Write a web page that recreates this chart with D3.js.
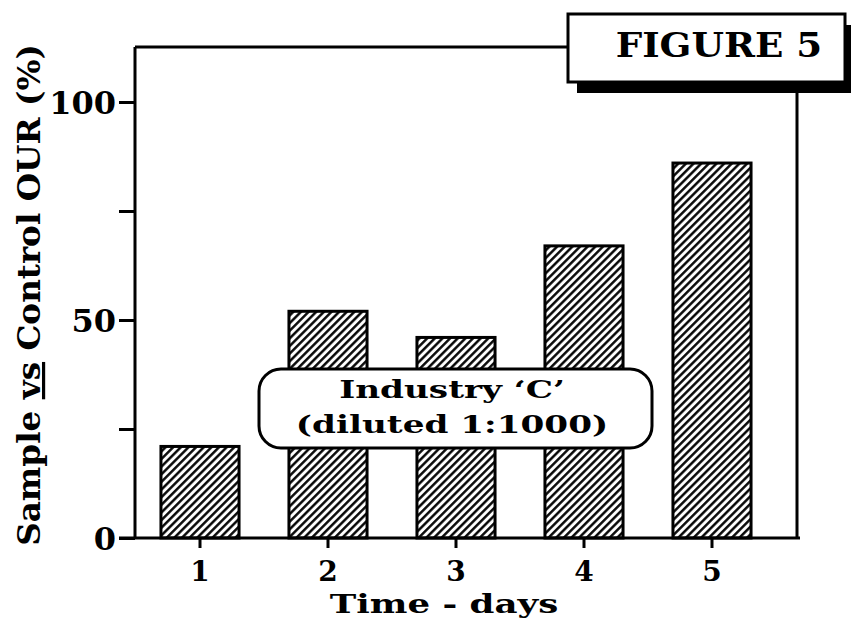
<!DOCTYPE html>
<html>
<head>
<meta charset="utf-8">
<script src="https://cdn.jsdelivr.net/npm/d3@7"></script>
<style>
  html, body { margin: 0; padding: 0; background: #fff; }
  svg { display: block; }
  text { font-family: "DejaVu Serif", serif; font-weight: bold; fill: #000; }
</style>
</head>
<body>
<svg id="chart" width="857" height="635"></svg>
<script>
// Sample vs control oxygen uptake rate, by day of exposure
const days = ["1", "2", "3", "4", "5"];
const ourPercent = [21, 52, 46, 67, 86];
const yTicks = [0, 25, 50, 75, 100];
const yTickLabels = { 0: "0", 50: "50", 100: "100" };
const figureTitle = "FIGURE 5";
const noteLines = ["Industry \u2018C\u2019", "(diluted 1:1000)"];

const svg = d3.select("#chart");

const plotLeft = 135, plotRight = 797, plotTop = 47, plotBottom = 538;

const x = d3.scaleBand()
  .domain(days)
  .range([136, 776])
  .paddingInner(0.39)
  .paddingOuter(0.195);

const y = d3.scaleLinear()
  .domain([0, 100])
  .range([plotBottom, 102]);

// wide, heavy lettering: centred text stretched horizontally
function wideText(parent, cx, cy, str, size, stretch) {
  return parent.append("text")
    .attr("transform", `translate(${cx},${cy}) scale(${stretch},1)`)
    .attr("text-anchor", "middle")
    .style("font-size", size + "px")
    .text(str);
}

// diagonal hatch fill for the bars
const defs = svg.append("defs");
const pat = defs.append("pattern")
  .attr("id", "hatch")
  .attr("patternUnits", "userSpaceOnUse")
  .attr("width", 5.4)
  .attr("height", 10)
  .attr("patternTransform", "rotate(45)");
pat.append("rect").attr("width", 5.4).attr("height", 10).attr("fill", "#fff");
pat.append("line")
  .attr("x1", 1.3).attr("y1", 0).attr("x2", 1.3).attr("y2", 10)
  .attr("stroke", "#000").attr("stroke-width", 2.4);

// bars
svg.append("g")
  .selectAll("rect")
  .data(days)
  .join("rect")
  .attr("x", d => x(d))
  .attr("y", (d, i) => y(ourPercent[i]))
  .attr("width", x.bandwidth())
  .attr("height", (d, i) => plotBottom - y(ourPercent[i]))
  .attr("fill", "url(#hatch)")
  .attr("stroke", "#000")
  .attr("stroke-width", 3);

// frame: top edge and right edge meet the title box
svg.append("line")
  .attr("x1", plotLeft).attr("y1", plotTop).attr("x2", 568).attr("y2", plotTop)
  .attr("stroke", "#000").attr("stroke-width", 3);
svg.append("line")
  .attr("x1", plotRight).attr("y1", 90).attr("x2", plotRight).attr("y2", plotBottom)
  .attr("stroke", "#000").attr("stroke-width", 3);

// y axis
const yAxis = svg.append("g")
  .attr("transform", `translate(${plotLeft},0)`)
  .call(d3.axisLeft(y).tickValues(yTicks).tickSize(16).tickSizeOuter(0)
    .tickFormat(d => yTickLabels[d] || ""));
yAxis.select(".domain")
  .attr("d", `M0,${plotTop}V${plotBottom}`)
  .attr("stroke-width", 3);
yAxis.selectAll(".tick line").attr("stroke-width", 3);
yAxis.selectAll(".tick text")
  .attr("x", -19)
  .attr("dy", "0.36em")
  .style("font-size", "32px")
  .style("font-family", "'DejaVu Serif', serif")
  .style("font-weight", "bold");

// x axis
const xAxis = svg.append("g")
  .attr("transform", `translate(0,${plotBottom})`)
  .call(d3.axisBottom(x).tickSize(10).tickSizeOuter(0));
xAxis.select(".domain")
  .attr("d", `M${plotLeft - 16},0H${plotRight + 3}`)
  .attr("stroke-width", 3);
xAxis.selectAll(".tick line").attr("stroke-width", 3);
xAxis.selectAll(".tick text")
  .attr("y", 23)
  .attr("dy", "0.71em")
  .style("font-size", "28px")
  .style("font-family", "'DejaVu Serif', serif")
  .style("font-weight", "bold");

// axis titles
wideText(svg, 444, 613, "Time - days", 26, 1.37);

const yTitle = svg.append("text")
  .attr("transform", "translate(40,295) rotate(-90) scale(1.02,1)")
  .attr("text-anchor", "middle")
  .style("font-size", "32px");
yTitle.append("tspan").text("Sample ");
yTitle.append("tspan").attr("text-decoration", "underline").text("vs");
yTitle.append("tspan").text(" Control OUR (%)");

// title box with drop shadow
svg.append("rect")
  .attr("x", 577).attr("y", 25).attr("width", 274).attr("height", 68)
  .attr("fill", "#000");
svg.append("rect")
  .attr("x", 568).attr("y", 14).attr("width", 277).attr("height", 68)
  .attr("fill", "#fff").attr("stroke", "#000").attr("stroke-width", 3);
wideText(svg, 719, 57, figureTitle, 33, 1.13);

// annotation box
svg.append("rect")
  .attr("x", 259).attr("y", 369).attr("width", 393).attr("height", 79)
  .attr("rx", 22).attr("ry", 22)
  .attr("fill", "#fff").attr("stroke", "#000").attr("stroke-width", 3);
noteLines.forEach((line, i) => wideText(svg, 452, 398 + i * 35, line, 25, 1.37));
</script>
</body>
</html>
